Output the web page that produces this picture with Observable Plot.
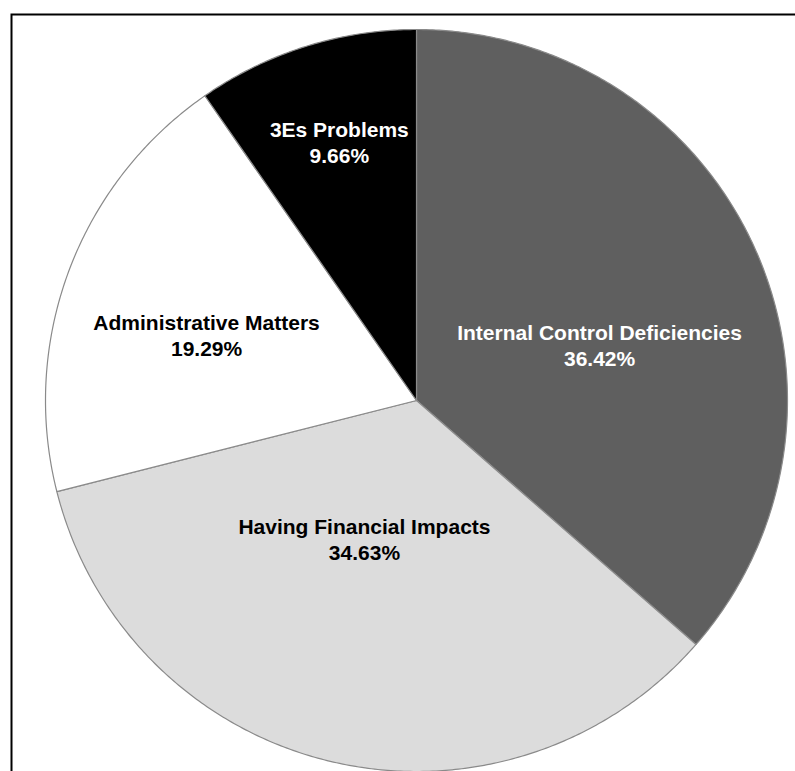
<!DOCTYPE html>
<html>
<head>
<meta charset="utf-8">
<script src="https://cdn.jsdelivr.net/npm/d3@7"></script>
<script src="https://cdn.jsdelivr.net/npm/@observablehq/plot@0.6"></script>
<style>
  html, body { margin: 0; padding: 0; background: white; overflow: hidden; }
  #chart svg { overflow: hidden; display: block; }
</style>
</head>
<body>
<div id="chart"></div>
<script>
// ---- data ----
const categories = ["Internal Control Deficiencies", "Having Financial Impacts", "Administrative Matters", "3Es Problems"];
const shares = [36.42, 34.63, 19.29, 9.66];
const percentLabels = ["36.42%", "34.63%", "19.29%", "9.66%"];

// ---- style / layout ----
const fills = ["#5f5f5f", "#dcdcdc", "#ffffff", "#000000"];
const textColors = ["#ffffff", "#000000", "#000000", "#ffffff"];
// label placement: [angle in degrees clockwise from 12 o'clock, radius fraction]
const labelPlacement = [[73.0, 0.516], [200.7, 0.397], [287.4, 0.593], [343.4, 0.728]];

const total = d3.sum(shares);
const slices = [];
let acc = 0;
categories.forEach((name, i) => {
  const a0 = acc / total * 2 * Math.PI;
  acc += shares[i];
  const a1 = acc / total * 2 * Math.PI;
  const pts = [{x: 0, y: 0}];
  const n = Math.max(2, Math.ceil((a1 - a0) / (Math.PI / 360)));
  for (let k = 0; k <= n; k++) {
    const a = a0 + (a1 - a0) * k / n;
    pts.push({x: Math.sin(a), y: Math.cos(a)});
  }
  pts.push({x: 0, y: 0});
  slices.push({name, pts, fill: fills[i]});
});

const labels = categories.map((name, i) => {
  const [deg, r] = labelPlacement[i];
  const a = deg * Math.PI / 180;
  return {x: r * Math.sin(a), y: r * Math.cos(a), text: name + "\n" + percentLabels[i], color: textColors[i]};
});

const chart = Plot.plot({
  width: 795,
  height: 771,
  marginLeft: 45,
  marginRight: 8,
  marginTop: 29,
  marginBottom: 0,
  x: {domain: [-1, 1], axis: null},
  y: {domain: [-1, 1], axis: null},
  style: {fontFamily: "'Liberation Sans', Arial, sans-serif", background: "white"},
  marks: [
    Plot.frame({stroke: "black", strokeWidth: 2, insetTop: -15, insetLeft: -34, insetRight: -30, insetBottom: -30}),
    ...slices.map(s => Plot.line(s.pts, {x: "x", y: "y", fill: s.fill, stroke: "#8a8a8a", strokeWidth: 1.2, curve: "linear"})),
    Plot.text(labels, {x: "x", y: "y", text: "text", fill: "color", fontSize: 21, fontWeight: "bold", lineHeight: 1.24, textAnchor: "middle"})
  ]
});
document.getElementById("chart").appendChild(chart);
</script>
</body>
</html>
